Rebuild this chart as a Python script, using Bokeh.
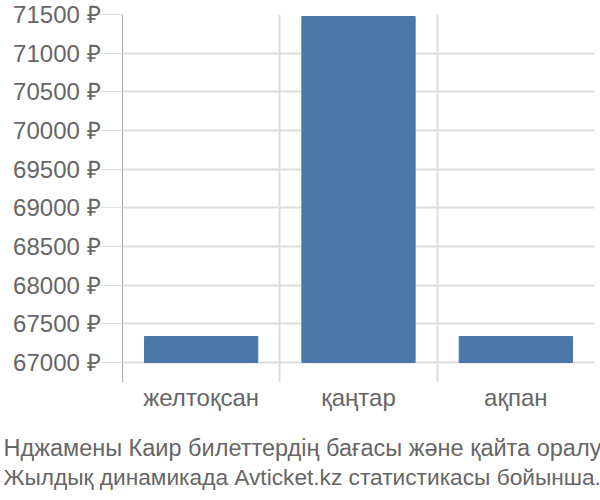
from bokeh.plotting import figure
from bokeh.models import Range1d, FixedTicker, Title
from bokeh.embed import file_html
from bokeh.resources import INLINE

months = ["желтоқсан", "қаңтар", "ақпан"]
prices = [67336, 71474, 67336]
y_ticks = [67000, 67500, 68000, 68500, 69000, 69500, 70000, 70500, 71000, 71500]
caption = ["Нджамены Каир билеттердің бағасы және қайта оралу",
           "Жылдық динамикада Avticket.kz статистикасы бойынша."]
caption_sizes = ["23.5px", "22.7px"]

FONT = "Liberation Sans"
GREY = "#666666"
GRID = "#dddddd"
BASE = 67000

xs = [i + 0.5 for i in range(len(months))]

p = figure(width=600, height=500, output_backend="svg", toolbar_location=None,
           x_range=Range1d(0, len(months)), y_range=Range1d(66741, 71500),
           min_border_left=122, min_border_right=6, min_border_top=14,
           min_border_bottom=118)
p.outline_line_color = None

p.vbar(x=xs, top=prices, bottom=BASE, width=0.72, color="#4c78a8")

# y axis
p.yaxis.ticker = FixedTicker(ticks=y_ticks)
p.yaxis.major_label_overrides = {t: f"{t} ₽" for t in y_ticks}
p.yaxis.axis_line_color = "#aaaaaa"
p.yaxis.major_tick_line_color = GRID
p.yaxis.major_tick_out = 22
p.yaxis.major_tick_in = 0
p.yaxis.minor_tick_line_color = None
p.yaxis.major_label_standoff = 0
p.yaxis.major_label_text_font = FONT
p.yaxis.major_label_text_font_size = "24px"
p.yaxis.major_label_text_color = GREY
p.ygrid.ticker = FixedTicker(ticks=y_ticks)
p.ygrid.grid_line_color = GRID
p.ygrid.grid_line_width = 2

# x axis (blank axis label used as spacer above the caption)
p.xaxis.ticker = FixedTicker(ticks=xs)
p.xaxis.major_label_overrides = {x: m for x, m in zip(xs, months)}
p.xaxis.axis_line_color = None
p.xaxis.major_tick_line_color = None
p.xaxis.minor_tick_line_color = None
p.xaxis.major_label_standoff = -5
p.xaxis.major_label_text_font = FONT
p.xaxis.major_label_text_font_size = "24px"
p.xaxis.major_label_text_color = GREY
p.xaxis.axis_label = " "
p.xaxis.axis_label_text_font_size = "1px"
p.xaxis.axis_label_standoff = 14
p.xgrid.ticker = FixedTicker(ticks=list(range(len(months) + 1)))
p.xgrid.grid_line_color = GRID
p.xgrid.grid_line_width = 2

for i, line in enumerate(caption):
    p.add_layout(Title(text=line, align="left", offset=-119,
                       standoff=2 if i == 0 else 0,
                       text_font=FONT, text_font_size=caption_sizes[i],
                       text_font_style="normal", text_color=GREY), "below")

open("out.html", "w").write(file_html(p, INLINE))
